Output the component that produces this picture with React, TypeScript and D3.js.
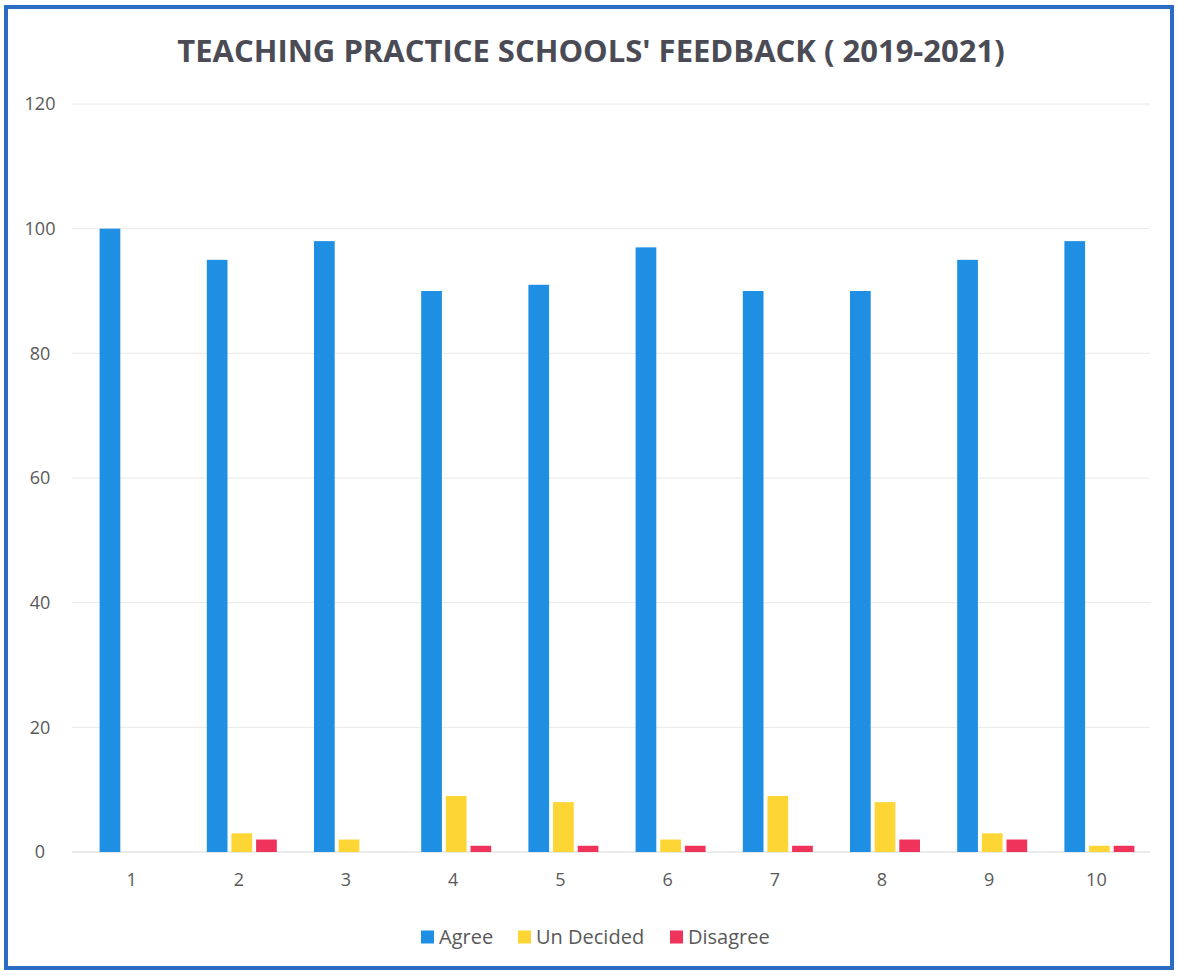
import React, { useEffect, useRef } from 'react';
import * as d3 from 'd3';

const categories = ['1', '2', '3', '4', '5', '6', '7', '8', '9', '10'];
const agree = [100, 95, 98, 90, 91, 97, 90, 90, 95, 98];
const undecided = [0, 3, 2, 9, 8, 2, 9, 8, 3, 1];
const disagree = [0, 2, 0, 1, 1, 1, 1, 2, 2, 1];
const seriesNames = ['Agree', 'Un Decided', 'Disagree'];
const seriesColors = ['#1f8fe3', '#fdd535', '#f0335a'];
const yTicks = [0, 20, 40, 60, 80, 100, 120];

const W = 1178;
const H = 976;

const App: React.FC = () => {
  const svgRef = useRef<SVGSVGElement>(null);

  useEffect(() => {
    if (!svgRef.current) return;
    const svg = d3.select(svgRef.current);
    svg.selectAll('*').remove();

    const margin = { top: 104, right: 28, bottom: 124, left: 78 };
    const innerW = W - margin.left - margin.right;
    const innerH = H - margin.top - margin.bottom;

    // frame
    svg.append('rect')
      .attr('x', 6).attr('y', 7)
      .attr('width', W - 12).attr('height', H - 15)
      .attr('fill', '#fff')
      .attr('stroke', '#2a6cc4')
      .attr('stroke-width', 4);

    svg.append('text')
      .attr('x', 591).attr('y', 62)
      .attr('text-anchor', 'middle')
      .attr('font-family', 'Open Sans, sans-serif')
      .attr('font-weight', 700)
      .attr('font-size', 31)
      .attr('fill', '#4b4b55')
      .text("TEACHING PRACTICE SCHOOLS' FEEDBACK ( 2019-2021)");

    const g = svg.append('g').attr('transform', `translate(${margin.left},${margin.top})`);

    const x = d3.scaleBand().domain(categories).range([0, innerW]);
    const y = d3.scaleLinear().domain([0, 120]).range([innerH, 0]);

    // grid
    g.selectAll('.grid')
      .data(yTicks)
      .join('line')
      .attr('x1', -6).attr('x2', innerW)
      .attr('y1', d => y(d)).attr('y2', d => y(d))
      .attr('stroke', d => (d === 0 ? '#d6d6d6' : '#e8e8e8'))
      .attr('stroke-width', 1);

    g.selectAll('.ytick')
      .data(yTicks)
      .join('text')
      .attr('x', -38).attr('y', d => y(d))
      .attr('dy', '0.35em')
      .attr('text-anchor', 'middle')
      .attr('font-family', 'Open Sans, sans-serif')
      .attr('font-size', 18)
      .attr('fill', '#595959')
      .text(d => d);

    g.selectAll('.xtick')
      .data(categories)
      .join('text')
      .attr('x', d => x(d)! + x.bandwidth() / 2)
      .attr('y', innerH + 34)
      .attr('text-anchor', 'middle')
      .attr('font-family', 'Open Sans, sans-serif')
      .attr('font-size', 18)
      .attr('fill', '#595959')
      .text(d => d);

    const series = [agree, undecided, disagree];
    const mid = x.bandwidth() / 2 + 3;
    const inner = d3.scaleBand()
      .domain(seriesNames)
      .range([mid - 35, mid + 35])
      .paddingInner(0.16);

    series.forEach((vals, si) => {
      g.selectAll(`.bar-${si}`)
        .data(categories.map((c, i) => ({ c, v: vals[i] })))
        .join('rect')
        .attr('x', d => x(d.c)! + inner(seriesNames[si])!)
        .attr('y', d => y(d.v))
        .attr('width', inner.bandwidth())
        .attr('height', d => innerH - y(d.v))
        .attr('fill', seriesColors[si]);
    });

    // legend
    const legendX = [421, 518, 670];
    const legend = svg.append('g').attr('transform', 'translate(0,937)');
    seriesNames.forEach((name, i) => {
      legend.append('rect')
        .attr('x', legendX[i]).attr('y', -6.5)
        .attr('width', 13).attr('height', 13)
        .attr('fill', seriesColors[i]);
      legend.append('text')
        .attr('x', legendX[i] + 18).attr('y', 0)
        .attr('dy', '0.35em')
        .attr('font-family', 'Open Sans, sans-serif')
        .attr('font-size', 20)
        .attr('fill', '#595959')
        .text(name);
    });
  }, []);

  return (
    <div style={{ position: 'absolute', left: 0, top: 0 }}>
      <svg ref={svgRef} width={W} height={H} style={{ display: 'block' }}></svg>
    </div>
  );
};

export default App;
